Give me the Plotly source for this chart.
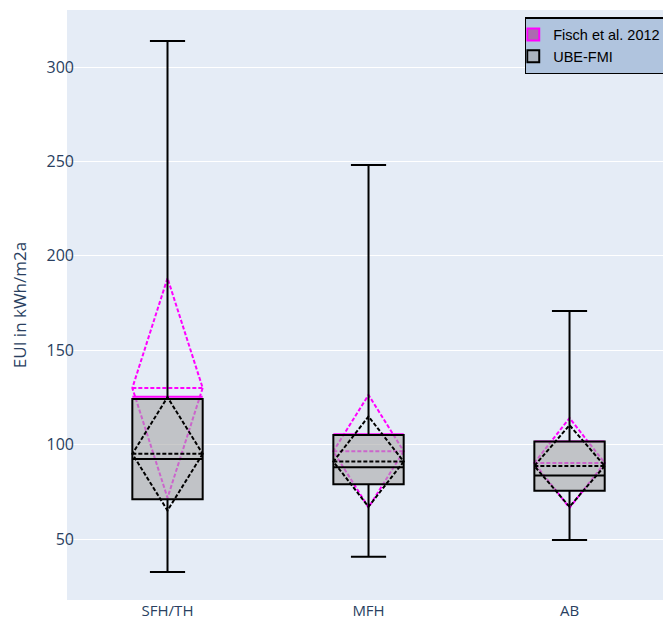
import plotly.graph_objects as go

categories = ["SFH/TH", "MFH", "AB"]

# UBE-FMI summary statistics
ube_q1 = [71.0, 79.0, 75.6]
ube_median = [92.4, 88.0, 83.6]
ube_q3 = [124.2, 105.1, 101.6]
ube_lower = [32.5, 40.6, 49.5]
ube_upper = [313.8, 248.1, 170.8]
ube_mean = [95.1, 91.0, 88.7]
ube_sd = [30.0, 23.9, 21.6]

# Fisch et al. 2012 summary statistics
fisch_value = [125.4, 105.5, 101.7]
fisch_mean = [130.0, 96.5, 90.3]
fisch_sd = [58.2, 29.8, 23.8]

fig = go.Figure()

fig.add_trace(go.Box(
    name="Fisch et al. 2012",
    x=categories,
    q1=fisch_value, median=fisch_value, q3=fisch_value,
    lowerfence=fisch_value, upperfence=fisch_value,
    mean=fisch_mean, sd=fisch_sd,
    boxmean="sd",
    line=dict(color="magenta", width=2),
    fillcolor="rgba(170,60,150,0.65)",
    boxpoints=False,
))

fig.add_trace(go.Box(
    name="UBE-FMI",
    x=categories,
    q1=ube_q1, median=ube_median, q3=ube_q3,
    lowerfence=ube_lower, upperfence=ube_upper,
    mean=ube_mean, sd=ube_sd,
    boxmean="sd",
    line=dict(color="black", width=2),
    fillcolor="rgba(169,169,169,0.6)",
    boxpoints=False,
))

fig.update_layout(
    width=663, height=620,
    margin=dict(l=67, r=0, t=10, b=20, autoexpand=False),
    boxmode="overlay",
    boxgap=0.5,
    font=dict(family="Open Sans, verdana, arial, sans-serif", size=15, color="#2a3f5f"),
    plot_bgcolor="#E5ECF6",
    paper_bgcolor="white",
    legend=dict(
        x=0.768, xanchor="left", y=0.988, yanchor="top",
        bgcolor="lightsteelblue", bordercolor="black", borderwidth=1.5,
        indentation=-13,
        font=dict(family="Liberation Sans, Arial, sans-serif", size=14.5, color="black"),
    ),
    xaxis=dict(range=[-0.5, 2.465], showgrid=False, tickfont=dict(size=15)),
    yaxis=dict(
        title=dict(text="EUI in kWh/m2a", font=dict(size=17)),
        range=[17.7, 330.2], gridcolor="white", zeroline=False,
        tickvals=[50, 100, 150, 200, 250, 300], tickfont=dict(size=16),
        ticklabelstandoff=-8,
    ),
)

fig.write_html(
    "out.html",
    config={"displayModeBar": False},
    post_script="document.body.style.margin='0';document.body.style.overflow='hidden';",
)
